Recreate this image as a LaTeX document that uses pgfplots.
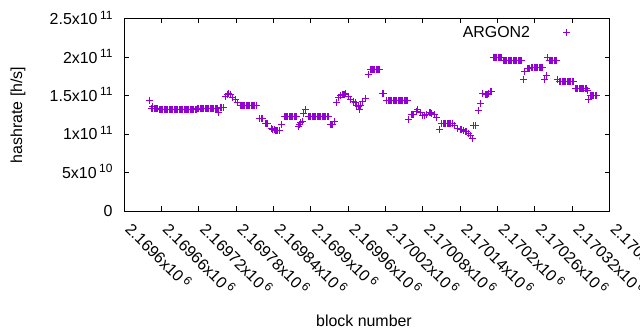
\documentclass[border=0pt]{standalone}
\usepackage{fontspec}
\setmainfont{Liberation Sans}
\usepackage{pgfplots}
\usepackage{pgfplotstable}
\pgfplotsset{compat=1.18}
\definecolor{argon}{HTML}{9400D3}
\newcommand\sq[1]{\hspace{2.5bp}\raisebox{5.5bp}{\fontsize{12}{12}\selectfont #1}}
\pgfplotsset{argonleg/.style={legend image code/.code={\path (0bp,0bp) (39.5bp,0bp); \draw[##1, only marks] plot coordinates {(36bp,0bp)};}}}

% column 1: block number minus 2169600; column 2: hashrate in units of 1e11 h/s
\pgfplotstableread{
db h
41 1.445
44 1.337
46 1.358
46 1.337
48 1.337
50 1.337
52 1.337
54 1.330
56 1.324
58 1.324
60 1.324
62 1.324
64 1.324
66 1.324
68 1.324
70 1.324
72 1.324
74 1.324
76 1.324
78 1.324
80 1.324
82 1.324
84 1.324
86 1.324
88 1.324
90 1.324
92 1.324
94 1.324
96 1.324
98 1.324
100 1.324
102 1.324
104 1.324
106 1.324
108 1.324
110 1.324
112 1.324
114 1.324
116 1.324
118 1.341
120 1.341
122 1.341
124 1.341
126 1.341
128 1.341
130 1.341
132 1.341
134 1.341
136 1.341
138 1.341
140 1.341
142 1.341
144 1.341
146 1.341
148 1.341
150 1.341
152 1.285
155 1.350
157 1.350
159 1.345
163 1.497
166 1.523
168 1.530
170 1.523
174 1.480
178 1.454
182 1.410
186 1.376
188 1.376
190 1.376
192 1.376
194 1.376
196 1.376
198 1.376
200 1.376
202 1.376
204 1.376
206 1.376
208 1.376
210 1.376
212 1.376
218 1.207
220 1.207
222 1.200
227 1.142
229 1.133
231 1.133
236 1.075
239 1.064
241 1.060
243 1.050
245 1.045
247 1.045
249 1.050
253 1.130
257 1.228
259 1.228
261 1.228
263 1.228
265 1.228
267 1.228
269 1.228
271 1.228
273 1.228
275 1.228
277 1.228
280 1.094
282 1.120
284 1.150
286 1.163
288 1.270
291 1.324
296 1.228
298 1.228
300 1.228
302 1.228
304 1.228
306 1.228
308 1.228
310 1.228
312 1.228
314 1.228
316 1.228
318 1.228
320 1.228
322 1.228
324 1.228
326 1.228
328 1.228
331 1.120
333 1.120
335 1.120
338 1.163
341 1.410
345 1.480
348 1.510
350 1.523
352 1.523
354 1.523
356 1.530
360 1.490
364 1.454
368 1.430
371 1.410
374 1.380
376 1.360
378 1.324
380 1.380
383 1.420
387 1.467
392 1.771
395 1.836
397 1.836
399 1.836
401 1.836
403 1.836
405 1.836
407 1.836
409 1.836
411 1.836
415 1.532
417 1.532
421 1.445
424 1.445
426 1.445
428 1.445
430 1.445
432 1.445
434 1.445
436 1.445
438 1.445
440 1.445
442 1.445
444 1.445
446 1.445
448 1.445
450 1.445
452 1.445
454 1.445
456 1.445
457 1.185
461 1.263
463 1.263
465 1.260
469 1.290
472 1.324
476 1.280
480 1.246
482 1.246
486 1.260
490 1.280
492 1.280
494 1.275
498 1.250
502 1.220
507 1.064
510 1.133
513 1.133
515 1.133
517 1.133
519 1.133
521 1.133
523 1.133
525 1.133
527 1.133
531 1.107
536 1.080
540 1.060
542 1.055
546 1.045
548 1.040
550 1.035
553 1.010
556 0.977
559 0.947
562 1.107
565 1.107
569 1.315
573 1.402
576 1.532
580 1.520
582 1.523
584 1.523
586 1.530
589 1.553
591 1.553
593 2.005
595 2.005
597 2.005
599 2.005
601 2.005
603 2.005
605 2.005
607 2.005
609 1.966
611 1.966
613 1.966
615 1.966
617 1.966
619 1.966
621 1.966
623 1.966
625 1.966
627 1.966
629 1.966
631 1.966
633 1.966
635 1.966
637 1.966
639 1.966
641 1.706
644 1.814
648 1.850
650 1.858
652 1.860
655 1.871
657 1.871
659 1.871
661 1.871
663 1.871
665 1.871
667 1.871
669 1.871
671 1.871
673 1.871
676 1.706
679 1.758
681 2.001
683 1.966
685 1.966
687 1.966
689 1.966
691 1.966
693 1.966
695 1.966
697 1.715
700 1.683
702 1.683
704 1.683
706 1.683
708 1.683
710 1.683
712 1.683
714 1.683
716 1.683
718 1.683
720 1.683
722 1.683
725 1.598
727 1.598
729 1.598
731 1.598
733 1.598
735 1.598
737 1.598
739 1.598
741 1.598
743 1.598
745 1.570
747 1.454
749 1.506
751 1.506
753 1.506
755 1.506
757 1.506
759 1.506
}\argondata

\begin{document}
\fontsize{16}{19}\selectfont
\begin{tikzpicture}
\begin{axis}[
  at={(124.3bp,119bp)}, anchor=south west,
  scale only axis, width=485.2bp, height=192bp,
  font=\fontsize{16}{19}\selectfont,
  xmin=0, xmax=780, ymin=0, ymax=2.5,
  xtick={0,60,...,780},
  xticklabels={2.1696x10\sq{6},2.16966x10\sq{6},2.16972x10\sq{6},2.16978x10\sq{6},2.16984x10\sq{6},2.1699x10\sq{6},2.16996x10\sq{6},2.17002x10\sq{6},2.17008x10\sq{6},2.17014x10\sq{6},2.1702x10\sq{6},2.17026x10\sq{6},2.17032x10\sq{6},2.17038x10\sq{6}},
  ytick={0,0.5,1,1.5,2,2.5},
  yticklabels={0,5x10\sq{10},1x10\sq{11},1.5x10\sq{11},2x10\sq{11},2.5x10\sq{11}},
  tick pos=both, xticklabel pos=lower, yticklabel pos=left,
  tick align=inside, major tick length=4.5bp,
  every tick/.style={black, line width=1bp},
  axis line style={black, line width=1bp},
  xticklabel style={anchor=base west, inner sep=0pt, yshift=-19.4bp, rotate=-45},
  yticklabel style={anchor=base east, inner sep=0pt, xshift=-11.6bp, yshift=-5.7bp},
  xlabel={block number},
  ylabel={hashrate [h/s]},
  xlabel style={at={(axis description cs:0.494,-0.6005)}, anchor=base},
  ylabel style={at={(axis description cs:-0.2108,0.5)}, anchor=base},
  legend plot pos=right,
  legend cell align=right,
  legend style={draw=none, fill=none, inner sep=0pt, column sep=0pt,
    nodes={inner sep=0pt},
    at={(axis description cs:0.9202,0.9651)}, anchor=north east},
]
\addplot[only marks, mark=+, color=argon, mark size=3.5bp, line width=1bp,
  mark options={draw=argon, fill=argon, solid}, argonleg]
  table[x=db, y=h] {\argondata};
\addlegendentry{ARGON2}
\end{axis}
\pgfresetboundingbox
\path (0bp,0bp) rectangle (640bp,330bp);
\end{tikzpicture}
\end{document}
